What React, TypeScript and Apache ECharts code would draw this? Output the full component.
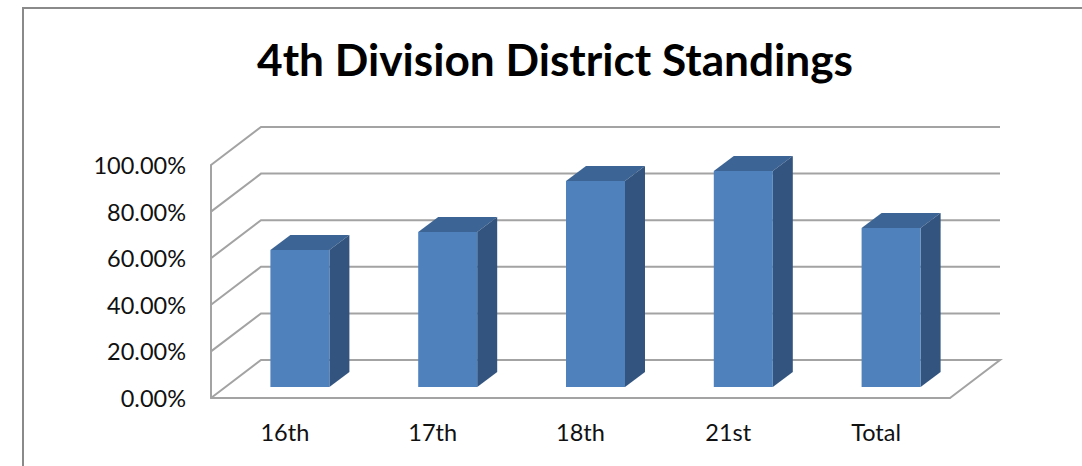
import React, { useEffect, useRef } from "react";
import * as echarts from "echarts";

const titleText = "4th Division District Standings";
const categories = ["16th", "17th", "18th", "21st", "Total"];
const standings = [0.588, 0.665, 0.884, 0.927, 0.682];
const gridTicks = [0, 0.2, 0.4, 0.6, 0.8, 1];

const WALL_DX = 50;
const WALL_DY = -38;
const BAR_DX = 20;
const BAR_DY = -15;
const BAR_INSET_DX = 15;
const BAR_INSET_DY = -11;
const BAR_WIDTH = 59;
const LINE = "#a3a3a3";

export default function App() {
  const ref = useRef<HTMLDivElement>(null);
  useEffect(() => {
    const chart = echarts.init(ref.current!, undefined, { renderer: "svg" });
    const font = "Lato, Carlito, sans-serif";
    chart.setOption({
      animation: false,
      backgroundColor: "#ffffff",
      title: {
        text: titleText,
        left: 550,
        top: 31,
        textAlign: "center",
        textStyle: { fontFamily: font, fontSize: 44.2, fontWeight: "bold", color: "#000000" },
      },
      grid: { left: 211, top: 165, width: 739, height: 233 },
      xAxis: {
        type: "category",
        data: categories,
        axisTick: { show: false },
        axisLine: { show: true, lineStyle: { color: LINE, width: 2 } },
        axisLabel: { margin: 22, fontFamily: font, fontSize: 23.5, color: "#111111" },
        splitLine: { show: false },
      },
      yAxis: {
        type: "value",
        min: 0,
        max: 1,
        interval: 0.2,
        axisTick: { show: false },
        axisLine: { show: true, lineStyle: { color: LINE, width: 2 } },
        axisLabel: {
          margin: 25,
          fontFamily: font,
          fontSize: 23.5,
          color: "#111111",
          padding: [2, 0, 0, 0],
          formatter: (v: number) => (v * 100).toFixed(2) + "%",
        },
        splitLine: { show: false },
      },
      graphic: [
        {
          type: "polyline",
          shape: { points: [[23, 466], [23, 8], [1082, 8]] },
          style: { fill: "none", stroke: "#8a8a8a", lineWidth: 2 },
          silent: true,
        },
      ],
      series: [
        {
          type: "custom",
          name: "walls",
          coordinateSystem: "cartesian2d",
          clip: false,
          z: 1,
          data: gridTicks.map((t) => [0, t]),
          renderItem: (params: any, api: any) => {
            const cs = params.coordSys;
            const y = api.coord([0, api.value(1)])[1];
            const left = cs.x;
            const right = cs.x + cs.width;
            const points: number[][] = [
              [left, y],
              [left + WALL_DX, y + WALL_DY],
              [right + WALL_DX, y + WALL_DY],
            ];
            if (api.value(1) === 0) points.push([right, y]);
            return {
              type: "polyline",
              shape: { points },
              style: { fill: "none", stroke: LINE, lineWidth: 2 },
            };
          },
        },
        {
          type: "custom",
          name: "standings",
          coordinateSystem: "cartesian2d",
          clip: false,
          z: 2,
          data: standings.map((v, i) => [i, v]),
          renderItem: (_params: any, api: any) => {
            const [cx, top0] = api.coord([api.value(0), api.value(1)]);
            const [, base0] = api.coord([api.value(0), 0]);
            const x0 = cx + BAR_INSET_DX - BAR_WIDTH / 2;
            const x1 = x0 + BAR_WIDTH;
            const top = top0 + BAR_INSET_DY;
            const base = base0 + BAR_INSET_DY;
            return {
              type: "group",
              children: [
                {
                  type: "polygon",
                  shape: { points: [[x0, top], [x1, top], [x1 + BAR_DX, top + BAR_DY], [x0 + BAR_DX, top + BAR_DY]] },
                  style: { fill: "#3c6494" },
                },
                {
                  type: "polygon",
                  shape: { points: [[x1, top], [x1 + BAR_DX, top + BAR_DY], [x1 + BAR_DX, base + BAR_DY], [x1, base]] },
                  style: { fill: "#32547f" },
                },
                {
                  type: "rect",
                  shape: { x: x0, y: top, width: BAR_WIDTH, height: base - top },
                  style: { fill: "#4f81bd" },
                },
              ],
            };
          },
        },
      ],
    });
    return () => chart.dispose();
  }, []);
  return <div ref={ref} style={{ position: "absolute", left: 0, top: 0, width: 1082, height: 466 }} />;
}
